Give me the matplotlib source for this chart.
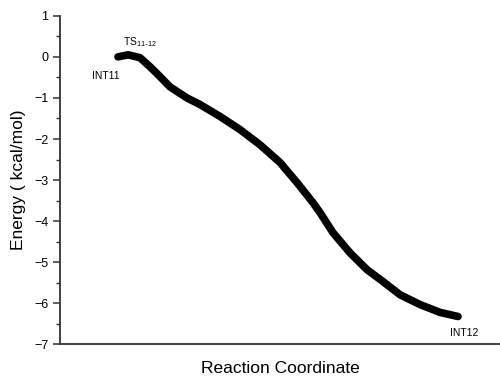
import matplotlib
matplotlib.use("Agg")
import matplotlib.pyplot as plt
from matplotlib.ticker import MultipleLocator

plt.rcParams["font.family"] = ["Liberation Sans", "DejaVu Sans"]

# Energy profile along the reaction coordinate (arbitrary units)
reaction_coord = [0.0, 1.0, 2.2, 3.2, 4.2, 5.2, 6.9, 8.2, 10.2, 12.2, 14.2,
                  16.2, 17.9, 19.5, 20.2, 21.5, 23.2, 24.9, 26.5, 28.2,
                  30.2, 32.2, 34.0]
energy = [0.0, 0.05, -0.02, -0.24, -0.48, -0.73, -1.0, -1.16, -1.45, -1.77,
          -2.14, -2.57, -3.06, -3.55, -3.79, -4.28, -4.77, -5.18, -5.47,
          -5.79, -6.03, -6.22, -6.32]

labels = ["INT11", r"TS$_{\mathregular{11\text{-}12}}$", "INT12"]
label_x = [-1.2, 2.15, 34.6]
label_y = [-0.46, 0.37, -6.71]

fig = plt.figure(figsize=(5.0, 3.76), dpi=100, facecolor="white")
ax = fig.add_axes([0.12, 0.084, 0.88, 0.874])

ax.plot(reaction_coord, energy, color="black", linewidth=5.5,
        solid_capstyle="round", solid_joinstyle="round")

for txt, tx, ty in zip(labels, label_x, label_y):
    ax.text(tx, ty, txt, fontsize=7.5, ha="center", va="center")

ax.set_xlim(-5.8, 38.2)
ax.set_ylim(-7, 1)
ax.yaxis.set_major_locator(MultipleLocator(1))
ax.yaxis.set_minor_locator(MultipleLocator(0.5))
ax.set_xticks([])

for side in ("top", "right"):
    ax.spines[side].set_visible(False)
for side in ("left", "bottom"):
    ax.spines[side].set_linewidth(1.3)
    ax.spines[side].set_color("#333333")

ax.tick_params(axis="y", which="major", direction="out", length=5,
               width=1.1, labelsize=9, color="#333333")
ax.tick_params(axis="y", which="minor", direction="out", length=3,
               width=1.0, color="#333333")

ax.set_ylabel("Energy ( kcal/mol)", fontsize=12.5, labelpad=6)
ax.set_xlabel("Reaction Coordinate", fontsize=12.5, labelpad=12)

fig.savefig("out.png", dpi=100, facecolor="white")
